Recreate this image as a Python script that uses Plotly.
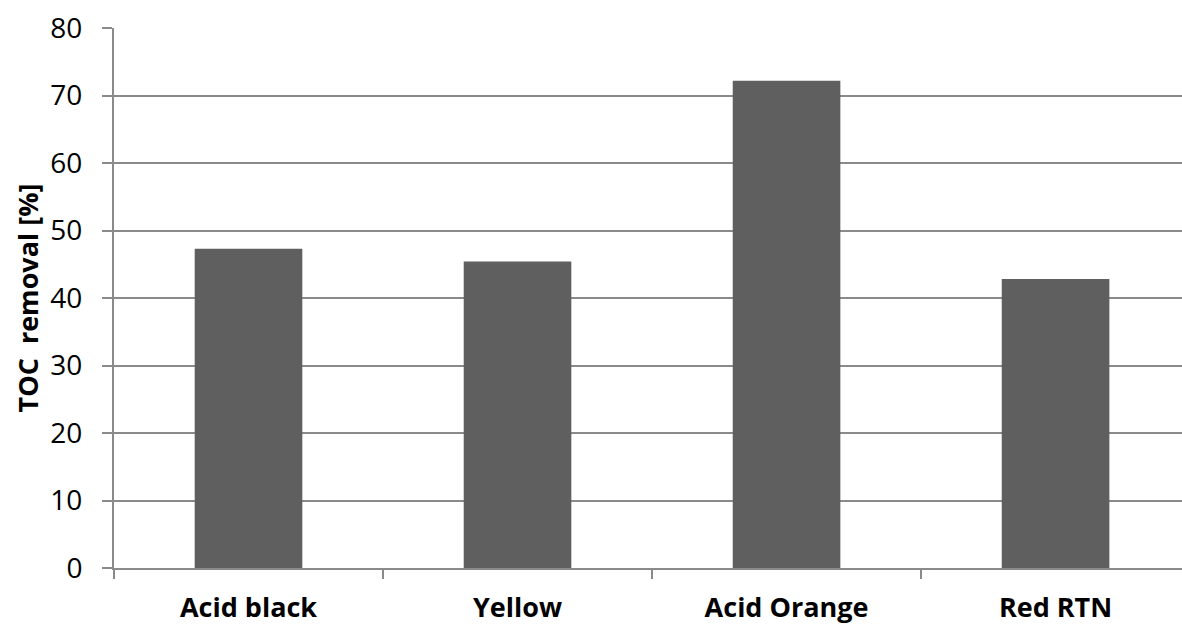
import plotly.graph_objects as go

categories = ["Acid black", "Yellow", "Acid Orange", "Red RTN"]
toc_removal = [47.3, 45.4, 72.2, 42.8]
y_ticks = [0, 10, 20, 30, 40, 50, 60, 70, 80]

grid = "#8a8a8a"
fig = go.Figure(go.Bar(
    x=categories, y=toc_removal,
    marker=dict(color="#5f5f5f", line=dict(width=0)),
))

fig.update_layout(
    width=1182, height=626,
    margin=dict(l=114, r=0, t=28, b=58),
    plot_bgcolor="white", paper_bgcolor="white",
    bargap=0.6, showlegend=False,
    font=dict(family="Open Sans", color="black", size=27),
)
fig.update_xaxes(
    type="category", range=[-0.5, 3.47],
    tickson="boundaries", ticks="outside", ticklen=9, tickwidth=2, tickcolor=grid,
    showline=True, linecolor=grid, linewidth=2,
    showgrid=False, zeroline=False,
    tickfont=dict(family="Open Sans", size=27, color="black", weight="bold"),
    ticklabelstandoff=15,
)
fig.update_yaxes(
    range=[0, 80], tickvals=y_ticks,
    ticks="outside", ticklen=10, tickwidth=2, tickcolor=grid,
    showline=True, linecolor=grid, linewidth=2,
    showgrid=True, gridcolor=grid, gridwidth=2, zeroline=False,
    tickfont=dict(family="Open Sans", size=28, color="black"),
    ticklabelstandoff=14,
    title=dict(text="TOC  removal [%]", standoff=4,
               font=dict(family="Open Sans", size=27, color="black", weight="bold")),
)

fig.write_html("out.html")
